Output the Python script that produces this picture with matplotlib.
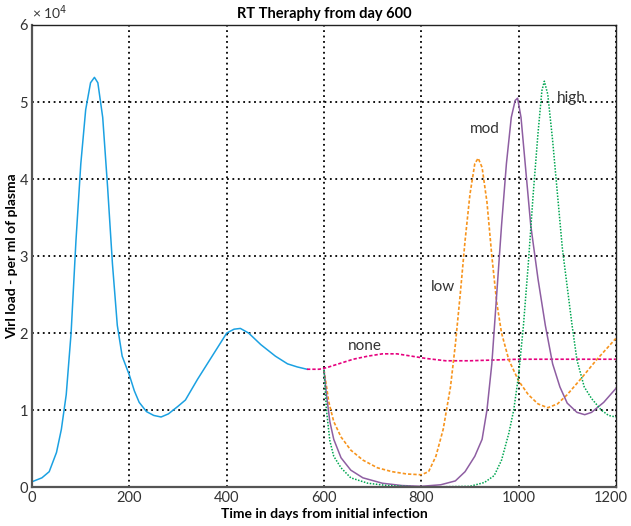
import matplotlib.pyplot as plt
import matplotlib.transforms as mtransforms

# viral load (x 10^4)
days_base = [0, 20, 35, 50, 60, 70, 80, 90, 100, 110, 120, 128, 135, 145, 155, 165, 175, 185,
             200, 210, 220, 235, 250, 265, 280, 300, 315, 340, 370, 400, 415, 428, 445, 470,
             500, 525, 545, 565]
load_base = [0.07, 0.12, 0.2, 0.45, 0.75, 1.2, 2.0, 3.2, 4.2, 4.9, 5.25, 5.32, 5.25, 4.8, 3.9,
             2.9, 2.1, 1.7, 1.45, 1.25, 1.1, 0.98, 0.93, 0.91, 0.95, 1.05, 1.13, 1.4, 1.7, 2.0,
             2.05, 2.06, 2.0, 1.85, 1.7, 1.6, 1.56, 1.53]

days_none = [565, 590, 605, 630, 660, 690, 720, 750, 780, 810, 850, 900, 950, 1000, 1100, 1200]
load_none = [1.53, 1.53, 1.55, 1.6, 1.66, 1.7, 1.73, 1.73, 1.7, 1.67, 1.64, 1.64, 1.65, 1.66,
             1.66, 1.66]

days_low = [600, 610, 620, 635, 655, 680, 710, 740, 770, 800, 815, 830, 845, 860, 870, 880,
            890, 900, 910, 917, 925, 935, 945, 955, 965, 980, 1000, 1020, 1040, 1060, 1080,
            1100, 1130, 1160, 1200]
load_low = [1.52, 1.1, 0.85, 0.65, 0.48, 0.35, 0.25, 0.2, 0.17, 0.16, 0.2, 0.4, 0.75, 1.3, 1.85,
            2.5, 3.2, 3.8, 4.2, 4.27, 4.15, 3.7, 3.0, 2.4, 2.0, 1.65, 1.38, 1.2, 1.08, 1.03,
            1.08, 1.2, 1.42, 1.65, 1.93]

days_mod = [600, 605, 612, 620, 635, 655, 680, 720, 760, 800, 840, 870, 890, 910, 925, 935,
            945, 955, 965, 975, 985, 993, 998, 1005, 1015, 1025, 1040, 1055, 1070, 1085, 1100,
            1120, 1136, 1150, 1175, 1200]
load_mod = [1.52, 1.2, 0.85, 0.62, 0.38, 0.22, 0.12, 0.05, 0.02, 0.01, 0.03, 0.08, 0.2, 0.4,
            0.62, 1.0, 1.6, 2.5, 3.4, 4.2, 4.8, 5.02, 5.05, 4.8, 4.1, 3.4, 2.7, 2.1, 1.6, 1.3,
            1.09, 0.97, 0.94, 0.97, 1.1, 1.28]

days_high = [600, 605, 612, 620, 635, 655, 690, 730, 800, 900, 930, 950, 965, 980, 990, 1000,
             1010, 1020, 1030, 1040, 1048, 1053, 1060, 1070, 1080, 1090, 1100, 1110, 1120,
             1135, 1150, 1170, 1185, 1200]
load_high = [1.52, 1.0, 0.6, 0.4, 0.25, 0.12, 0.05, 0.02, 0.0, 0.01, 0.06, 0.15, 0.35, 0.7, 1.0,
             1.45, 2.1, 2.9, 3.8, 4.6, 5.15, 5.27, 5.1, 4.5, 3.8, 3.1, 2.6, 2.1, 1.65, 1.3, 1.15,
             1.0, 0.93, 0.91]

plt.rcParams['font.family'] = ['Lato', 'DejaVu Sans']

fig = plt.figure(figsize=(6.31, 5.26), dpi=100)
ax = fig.add_axes([0.051, 0.074, 0.925, 0.8785])

ax.plot(days_base, load_base, c='#1ba1e2', lw=1.1)
ax.plot(days_none, load_none, c='#e6007e', lw=1.2, ls=(0, (2, 1.2)))
ax.plot(days_low, load_low, c='#f7941d', lw=1.2, ls=(0, (2, 1.2)))
ax.plot(days_mod, load_mod, c='#8e5ea2', lw=1.1)
ax.plot(days_high, load_high, c='#00a651', lw=1.1, ls=(0, (1, 1)))

ax.text(650, 1.78, 'none', fontsize=11, color='#333333')
ax.text(820, 2.55, 'low', fontsize=11, color='#333333')
ax.text(900, 4.6, 'mod', fontsize=11, color='#333333')
ax.text(1078, 5.0, 'high', fontsize=11, color='#333333')

ax.set_xlim(0, 1200)
ax.set_ylim(0, 6)
ax.set_xticks(range(0, 1201, 200))
ax.set_yticks(range(0, 7))
ax.grid(True, color='black', ls=(0, (1, 2)), lw=1.3)
ax.tick_params(length=0, labelsize=10.5, colors='#333333', pad=3)

# keep the last x label inside the figure
last = ax.get_xticklabels()[-1]
last.set_transform(last.get_transform() + mtransforms.ScaledTranslation(-5 / 100, 0, fig.dpi_scale_trans))

for s in ['left', 'bottom']:
    ax.spines[s].set_linewidth(1.6)
    ax.spines[s].set_color('#555555')
for s in ['top', 'right']:
    ax.spines[s].set_linewidth(1.0)
    ax.spines[s].set_color('#222222')

ax.set_title('RT Theraphy from day 600', fontsize=10.5, fontweight='bold', pad=5)
ax.set_xlabel('Time in days from initial infection', fontsize=10, fontweight='bold', labelpad=2)
ax.set_ylabel('Virl load - per ml of plasma', fontsize=10, fontweight='bold', labelpad=1)
ax.text(0.0, 1.012, '× 10$^4$', transform=ax.transAxes, fontsize=10, color='#333333')

plt.savefig('out.png', dpi=100)
